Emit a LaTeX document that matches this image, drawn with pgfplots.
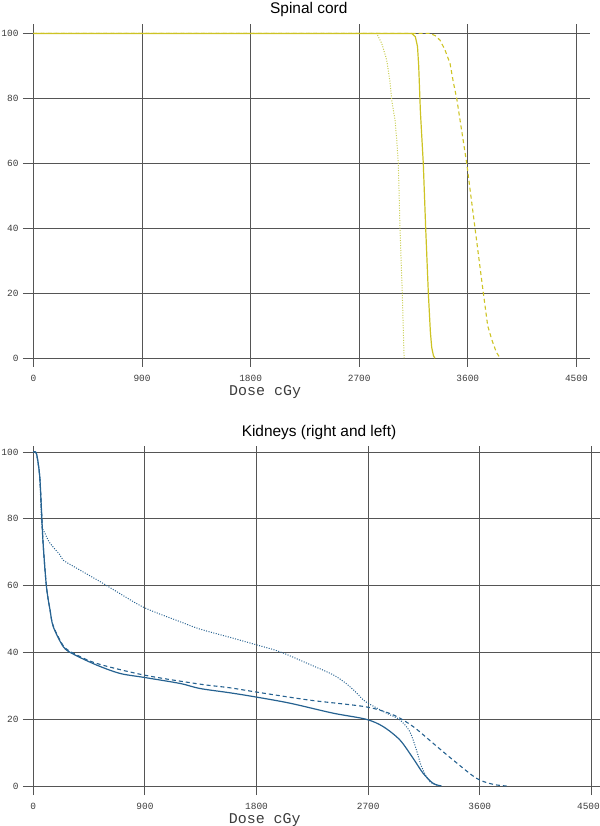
\documentclass[border=0pt]{standalone}
\usepackage{fontspec}
\setmainfont{Liberation Sans}
\setmonofont{Liberation Mono}
\usepackage{pgfplots}
\pgfplotsset{compat=1.18}

\definecolor{cordc}{RGB}{205,195,35}
\definecolor{cordd}{RGB}{200,205,80}
\definecolor{kidc}{RGB}{38,98,145}
\definecolor{gridc}{RGB}{85,85,85}
\definecolor{txtc}{RGB}{60,60,60}

\pgfplotsset{
  dvh/.style={
    scale only axis,
    anchor=south west,
    grid=major,
    major grid style={draw=gridc, line width=0.9bp},
    axis line style={draw=none},
    major tick length=0pt,
    xtick={0,900,...,4500},
    ytick={0,20,...,100},
    /pgf/number format/1000 sep={},
    /pgf/number format/assume math mode=true,
    ticklabel style={font=\ttfamily\fontsize{9.5}{10}\selectfont, text=txtc},
    xticklabel style={yshift=-5bp},
    yticklabel style={xshift=-1bp},
  },
  solidl/.style={line width=1.2bp},
  dashl/.style={line width=1.1bp, dash pattern=on 4bp off 3bp},
  dotl/.style={line width=1bp, dash pattern=on 1bp off 1.5bp},
}

\begin{document}
\begin{tikzpicture}
\useasboundingbox (0,0) rectangle (600bp,826bp);

% spinal cord
\begin{axis}[dvh,
  at={(23bp,459bp)}, width=567bp, height=343bp,
  xmin=-87, xmax=4613, ymin=-2.7, ymax=102.9,
  title={Spinal cord},
  every axis title/.style={at={(axis description cs:0.504,1)}, anchor=base,
    yshift=10.5bp, font=\fontsize{15.5}{18}\selectfont},
  xlabel={Dose cGy},
  every axis x label/.style={at={(axis description cs:0.427,0)}, anchor=north,
    inner sep=0pt, yshift=-18bp, font=\ttfamily\fontsize{15}{17}\selectfont, text=txtc},
]
\addplot[cordd, dotl] coordinates {
  (0,100) (2845,100) (2887,96.9) (2928,91.8) (2955,85.1) (2969,79.5)
  (2997,73.3) (3011,67.2) (3024,60) (3038,40) (3057,20) (3072,0)
};
\addplot[cordc, solidl] coordinates {
  (0,100) (3135,100) (3165,99) (3183,96) (3193,90) (3200,83) (3207,76)
  (3231,60) (3251,40) (3273,20) (3290,8) (3301,3.3) (3315,0.8) (3328,0)
};
\addplot[cordc, dashl] coordinates {
  (0,100) (3287,100) (3330,99.3) (3370,97.9) (3410,95) (3453,90.7)
  (3480,85) (3508,80) (3591,60) (3660,40) (3729,20) (3765,10)
  (3798,5.8) (3835,2) (3868,0)
};
\end{axis}

% kidneys
\begin{axis}[dvh,
  at={(23bp,31bp)}, width=577bp, height=349bp,
  xmin=-83, xmax=4569, ymin=-2.7, ymax=101.8,
  xticklabels={0,900,1800,2700,3600,{\hspace*{-6bp}4500}},
  title={Kidneys (right and left)},
  every axis title/.style={at={(axis description cs:0.513,1)}, anchor=base,
    yshift=9bp, font=\fontsize{15.5}{18}\selectfont},
  xlabel={Dose cGy},
  every axis x label/.style={at={(axis description cs:0.419,0)}, anchor=north,
    inner sep=0pt, yshift=-18bp, font=\ttfamily\fontsize{15}{17}\selectfont, text=txtc},
]
\addplot[kidc, dotl, smooth, tension=0.5] coordinates {
  (0,100) (18,100) (31,98.6) (52,92.6) (68,78.6) (94,75.7) (135,72.7)
  (215,69.2) (242,67.6) (350,65.2) (538,61.2) (672,58.2) (895,53.4)
  (1183,49.2) (1342,47) (1586,44.5) (1786,42.4) (1987,40.2) (2229,36.4)
  (2417,33.3) (2525,30.6) (2606,27.9) (2681,25.2) (2848,21.8) (2955,19.8)
  (3035,16.3) (3089,10.8) (3130,5.8) (3197,1.3) (3277,0)
};
\addplot[kidc, dashl, smooth, tension=0.5] coordinates {
  (0,100) (18,100) (31,98.6) (52,92.6) (66,82.6) (79,72.7) (106,59.7)
  (135,52.7) (161,47.9) (242,42) (322,39.8) (511,36.7) (895,33.2)
  (1342,30.5) (1586,29.4) (1786,28.2) (2229,25.7) (2681,23.7) (2901,21.3)
  (3062,17.8) (3223,12.8) (3384,7.8) (3573,2.3) (3707,0.5) (3815,0)
};
\addplot[kidc, solidl, smooth, tension=0.5] coordinates {
  (0,100) (18,100) (31,98.6) (52,92.6) (66,82.6) (79,72.7) (106,59.7)
  (135,52.7) (161,47.7) (242,41.7) (322,39.5) (511,36.2) (699,33.7)
  (895,32.5) (1183,30.7) (1342,29.2) (1586,27.9) (1786,26.7) (2068,24.8)
  (2417,21.8) (2681,20) (2820,17.8) (2955,13.8) (3062,8.3) (3143,3.8)
  (3223,0.8) (3291,0)
};
\end{axis}
\end{tikzpicture}
\end{document}
